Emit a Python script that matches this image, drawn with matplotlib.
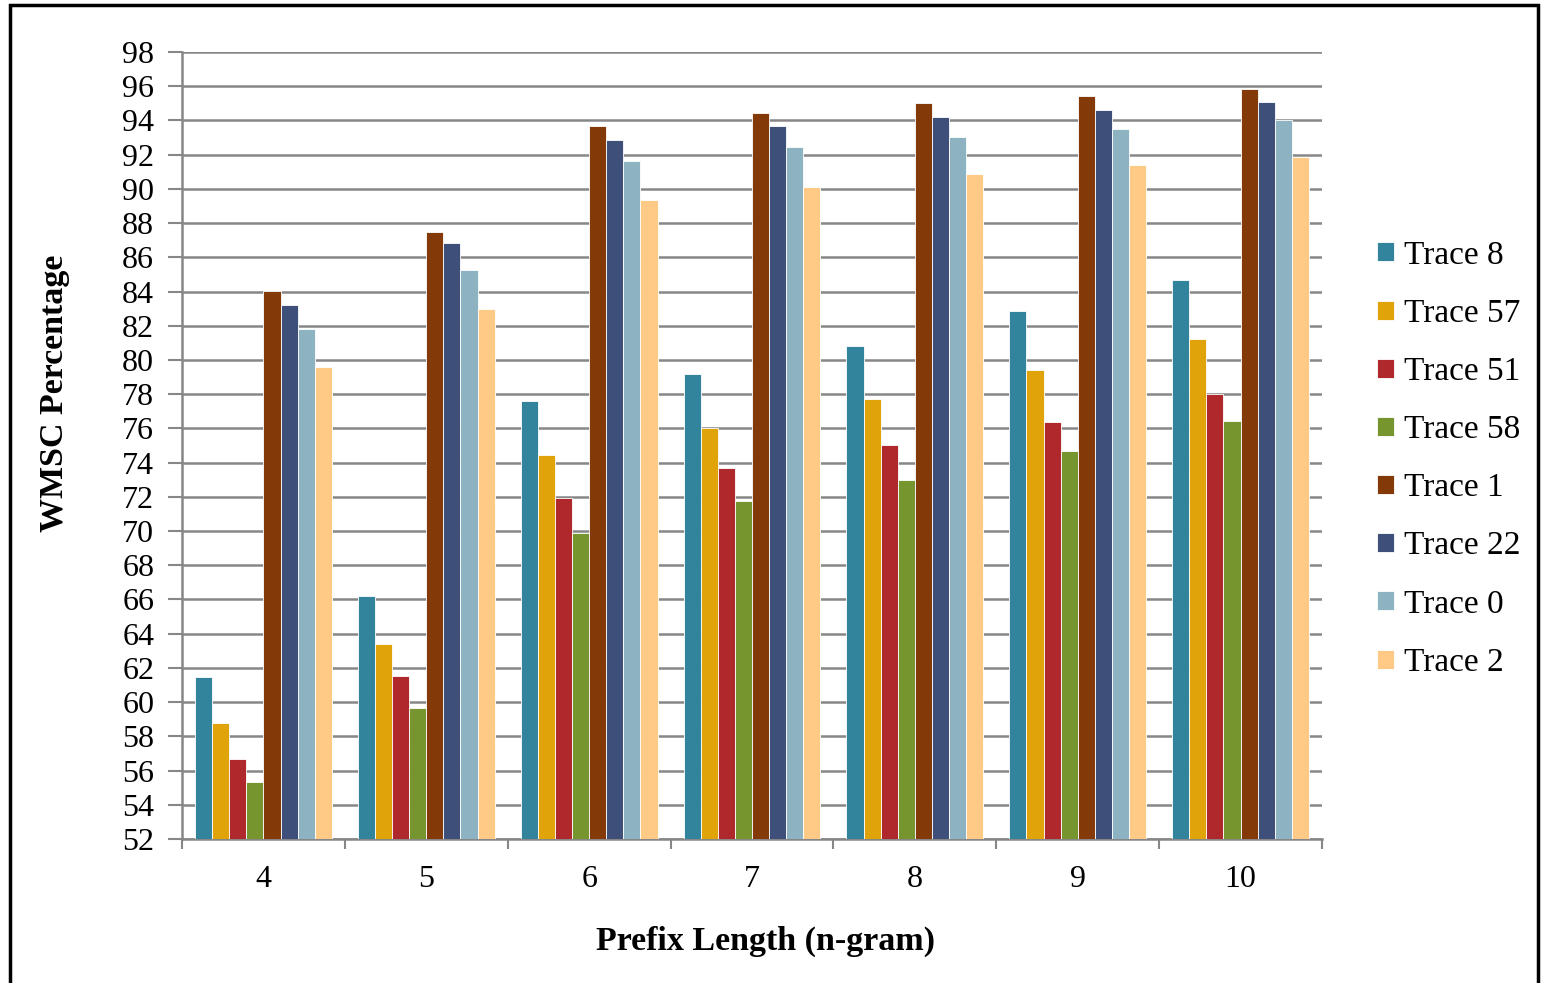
import matplotlib.pyplot as plt
import numpy as np

# prefix lengths on the x axis
prefix_lengths = ['4', '5', '6', '7', '8', '9', '10']

trace_8 = [61.45, 66.2, 77.6, 79.15, 80.8, 82.85, 84.65]
trace_57 = [58.8, 63.4, 74.45, 76.0, 77.7, 79.4, 81.2]
trace_51 = [56.7, 61.5, 71.95, 73.7, 75.0, 76.4, 78.0]
trace_58 = [55.35, 59.65, 69.9, 71.75, 73.0, 74.7, 76.45]
trace_1 = [84.05, 87.5, 93.7, 94.45, 95.0, 95.4, 95.85]
trace_22 = [83.2, 86.85, 92.85, 93.65, 94.2, 94.6, 95.05]
trace_0 = [81.8, 85.25, 91.65, 92.45, 93.05, 93.5, 94.0]
trace_2 = [79.6, 83.0, 89.35, 90.1, 90.85, 91.4, 91.85]

series = [('Trace 8', trace_8), ('Trace 57', trace_57), ('Trace 51', trace_51),
          ('Trace 58', trace_58), ('Trace 1', trace_1), ('Trace 22', trace_22),
          ('Trace 0', trace_0), ('Trace 2', trace_2)]
colors = ['#31849B', '#E0A30A', '#AE282C', '#77952F',
          '#843A08', '#3E5079', '#8DB3C2', '#FECA85']

plt.rcParams['font.family'] = ['Liberation Serif', 'DejaVu Serif']

fig = plt.figure(figsize=(15.49, 9.83), dpi=100)
W, H = 1549, 983
ax = fig.add_axes([182 / W, 1 - 839 / H, (1322 - 182) / W, (839 - 52) / H])

x = np.arange(len(prefix_lengths))
w = 0.105
for i, (name, vals) in enumerate(series):
    ax.bar(x + (i - 3.5) * w, np.array(vals) - 52, width=w, bottom=52,
           color=colors[i], edgecolor='white', linewidth=0.6, label=name, zorder=3)

ax.set_ylim(52, 98)
ax.set_xlim(-0.5, len(prefix_lengths) - 0.5)
ax.set_yticks(np.arange(52, 99, 2))
ax.yaxis.grid(True, color='#878787', linewidth=1.8, zorder=0)
ax.set_axisbelow(True)

# ticks on x sit at the group boundaries, labels at the centres
ax.set_xticks(np.arange(-0.5, len(prefix_lengths), 1.0))
ax.set_xticklabels([])
ax.set_xticks(x, minor=True)
ax.set_xticklabels(prefix_lengths, minor=True)
ax.tick_params(axis='x', which='major', length=7, width=1.5, color='#878787')
ax.tick_params(axis='x', which='minor', length=0, labelsize=23, pad=19)
ax.tick_params(axis='y', length=10, width=1.5, color='#878787', labelsize=23, pad=10)

for s in ['top', 'right']:
    ax.spines[s].set_visible(False)
for s in ['left', 'bottom']:
    ax.spines[s].set_color('#878787')
    ax.spines[s].set_linewidth(1.8)

fig.text(766 / W, 1 - 941 / H, 'Prefix Length (n-gram)', fontsize=24.5,
         fontweight='bold', ha='center', va='center')
fig.text(55 / W, 1 - 393 / H, 'WMSC Percentage', fontsize=24.5,
         fontweight='bold', ha='center', va='center', rotation=90)

leg = ax.legend(loc='center left', bbox_to_anchor=(1364 / W, 1 - 459 / H),
                bbox_transform=fig.transFigure, frameon=False, fontsize=24,
                handlelength=0.5, handleheight=0.5, handletextpad=0.3,
                labelspacing=0.83, borderaxespad=0)

# outer frame (bottom edge falls off the image)
fig.patches.append(plt.Rectangle((10 / W, -0.02), (1538 - 10) / W, 1.02 - 5 / H,
                                 transform=fig.transFigure, fill=False,
                                 edgecolor='black', linewidth=2.5))

fig.savefig('out.png', dpi=100)
